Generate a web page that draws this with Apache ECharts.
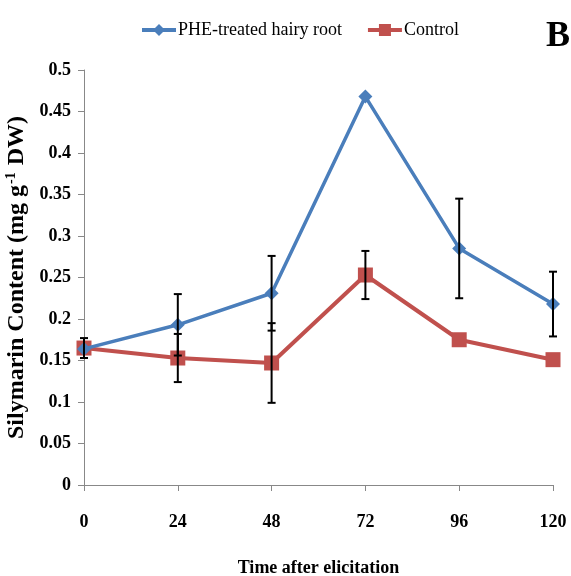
<!DOCTYPE html>
<html>
<head>
<meta charset="utf-8">
<script src="https://cdn.jsdelivr.net/npm/echarts@6/dist/echarts.min.js"></script>
<style>
  html, body { margin: 0; padding: 0; background: #fff; }
  #main { width: 571px; height: 576px; }
</style>
</head>
<body>
<div id="main"></div>
<script>
// hours after elicitation
const times = [0, 24, 48, 72, 96, 120];
// PHE-treated hairy root
const pheValues = [0.164, 0.193, 0.231, 0.468, 0.285, 0.218];
const pheErrors = [0, 0.037, 0.045, 0, 0.060, 0.039];
// control
const ctrlValues = [0.165, 0.153, 0.147, 0.253, 0.175, 0.151];
const ctrlErrors = [0.012, 0.029, 0.048, 0.029, 0, 0];

const serif = '"Liberation Serif", "Times New Roman", serif';

// build [x, low, high] for the error bars
function errData(vals, errs) {
    let out = [];
    times.forEach((t, i) => {
        if (errs[i] > 0) out.push([t, vals[i] - errs[i], vals[i] + errs[i]]);
    });
    return out;
}

function renderErr(params, api) {
    let x = api.value(0);
    let top = api.coord([x, api.value(2)]);
    let bot = api.coord([x, api.value(1)]);
    let hw = 4; // half width of the caps
    let st = { stroke: '#000', lineWidth: 2 };
    return {
        type: 'group',
        children: [
            { type: 'line', shape: { x1: top[0], y1: top[1], x2: bot[0], y2: bot[1] }, style: st },
            { type: 'line', shape: { x1: top[0] - hw, y1: top[1], x2: top[0] + hw, y2: top[1] }, style: st },
            { type: 'line', shape: { x1: bot[0] - hw, y1: bot[1], x2: bot[0] + hw, y2: bot[1] }, style: st }
        ]
    };
}

let myChart = echarts.init(document.getElementById('main'));

let option = {
    animation: false,
    title: {
        text: 'B',
        right: 1,
        top: 19,
        padding: 0,
        textStyle: { fontFamily: serif, fontSize: 36, fontWeight: 'bold', color: '#000' }
    },
    legend: {
        data: [
            { name: 'PHE-treated hairy root', lineStyle: { width: 4 } },
            { name: 'Control', lineStyle: { width: 4 } }
        ],
        left: 135,
        top: 16,
        itemWidth: 34,
        itemHeight: 15,
        itemGap: 24,
        textStyle: { fontFamily: serif, fontSize: 18, color: '#000', padding: [0, 0, 0, -3] }
    },
    grid: {
        left: 84,
        right: 18,
        top: 70,
        bottom: 91,
        outerBoundsMode: 'none'
    },
    xAxis: {
        type: 'value',
        min: 0,
        max: 120,
        interval: 24,
        name: 'Time after elicitation',
        nameLocation: 'middle',
        nameGap: 74,
        nameTextStyle: { fontFamily: serif, fontSize: 18, fontWeight: 'bold', color: '#000' },
        splitLine: { show: false },
        axisLine: { lineStyle: { color: '#888', width: 1 } },
        axisTick: { show: true, length: 6, lineStyle: { color: '#888' } },
        axisLabel: { margin: 28, fontFamily: serif, fontSize: 18, fontWeight: 'bold', color: '#000' }
    },
    yAxis: {
        type: 'value',
        min: 0,
        max: 0.5,
        interval: 0.05,
        name: '{a|Silymarin Content (mg g}{s|-1}{a| DW)}',
        nameLocation: 'middle',
        nameGap: 47,
        nameTextStyle: {
            rich: {
                a: { fontFamily: serif, fontSize: 24, fontWeight: 'bold', color: '#000' },
                s: { fontFamily: serif, fontSize: 14, fontWeight: 'bold', color: '#000', padding: [0, 1, 10, 1] }
            }
        },
        splitLine: { show: false },
        axisLine: { show: true, lineStyle: { color: '#888', width: 1 } },
        axisTick: { show: true, length: 6, lineStyle: { color: '#888' } },
        axisLabel: { margin: 13, fontFamily: serif, fontSize: 18, fontWeight: 'bold', color: '#000' }
    },
    series: [
        {
            name: 'PHE-treated hairy root',
            type: 'line',
            data: times.map((t, i) => [t, pheValues[i]]),
            symbol: 'diamond',
            symbolSize: 14,
            itemStyle: { color: '#4A7EBB' },
            lineStyle: { color: '#4A7EBB', width: 3.5 },
            z: 3
        },
        {
            name: 'Control',
            type: 'line',
            data: times.map((t, i) => [t, ctrlValues[i]]),
            symbol: 'rect',
            symbolSize: 15,
            itemStyle: { color: '#C0504D' },
            lineStyle: { color: '#C0504D', width: 4 },
            z: 2
        },
        {
            name: 'pheErr',
            type: 'custom',
            renderItem: renderErr,
            data: errData(pheValues, pheErrors),
            encode: { x: 0, y: [1, 2] },
            z: 10,
            silent: true
        },
        {
            name: 'ctrlErr',
            type: 'custom',
            renderItem: renderErr,
            data: errData(ctrlValues, ctrlErrors),
            encode: { x: 0, y: [1, 2] },
            z: 10,
            silent: true
        }
    ]
};

myChart.setOption(option);
</script>
</body>
</html>
